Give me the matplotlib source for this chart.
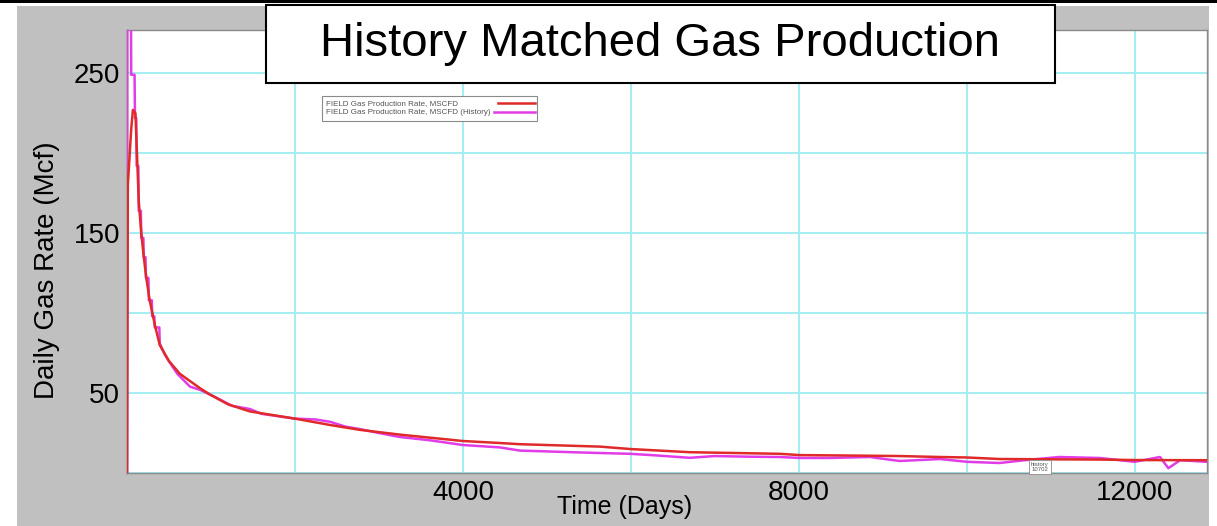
import matplotlib
matplotlib.use("Agg")
import matplotlib.pyplot as plt
from matplotlib.patches import Rectangle
from matplotlib.lines import Line2D

plt.rcParams['font.family'] = ['Liberation Sans', 'DejaVu Sans']

# ---- data ----
hist_days = [0, 3, 45, 50, 90, 95, 110, 115, 135, 140, 165, 170, 195, 200, 220, 225,
             255, 260, 295, 300, 325, 330, 385, 390, 450, 510,
             600, 750, 870, 1050, 1250, 1464, 1600, 2000, 2240, 2420, 2600, 2770,
             3000, 3250, 3600, 4000, 4440, 4680, 5000, 5300, 5630, 5990, 6300,
             6700, 7000, 7400, 7770, 8010, 8370, 8845, 9200, 9680, 10000, 10390,
             10690, 11100, 11580, 12000, 12300, 12400, 12540, 12860]
hist_rate = [0, 320, 320, 249, 249, 222, 222, 192, 192, 164, 164, 147, 147, 135, 135, 122,
             122, 108, 108, 98, 98, 91, 91, 81, 74, 69,
             62, 54, 52, 47.5, 42, 40, 37, 34, 33.5, 32, 29, 27.5,
             25, 22.5, 20.5, 17.5, 16, 14, 13.5, 13, 12.5, 12, 11,
             9.5, 10.6, 10.2, 10, 9.4, 9.4, 10, 7.5, 8.75, 7, 6.25,
             8, 10, 9.4, 7, 10, 3, 8, 7]

sim_days = [0, 10, 50, 70, 100, 115, 140, 170, 200, 230, 270, 330, 390, 500, 630,
            870, 990, 1200, 1464, 2000, 2420, 2770, 3250, 4000, 4440, 4680, 5630,
            5990, 6700, 7770, 8010, 8845, 9200, 9680, 10000, 10390, 11580, 12000, 12860]
sim_rate = [0, 180, 215, 227, 225, 205, 170, 150, 135, 122, 108, 93, 80, 70, 62,
            53, 49, 43, 38.5, 34, 30, 27, 24, 20, 18.75, 18, 16.5,
            15, 13, 12, 11.2, 10.8, 10.6, 10, 9.7, 8.75, 8.4, 8.1, 8]

x_grid = [0, 2000, 4000, 6000, 8000, 10000, 12000]
x_labels = ['', '', '4000', '', '8000', '', '12000']
y_grid = [0, 50, 100, 150, 200, 250]
y_labels = ['', '50', '', '150', '', '250']

title = "History Matched Gas Production"
sim_name = "FIELD Gas Production Rate, MSCFD"
hist_name = "FIELD Gas Production Rate, MSCFD (History)"
sim_color = '#e02a2a'
hist_color = '#e23ce8'

W, H = 1217, 526
fig = plt.figure(figsize=(W / 100, H / 100), dpi=100)
fig.patch.set_facecolor('white')

# gray frame background and top black band
fig.add_artist(Rectangle((17 / W, 0), (1209 - 17) / W, (H - 6) / H,
                         transform=fig.transFigure, facecolor='#c0c0c0',
                         edgecolor='none', zorder=0))
fig.add_artist(Rectangle((0, 1 - 3 / H), 1, 3 / H, transform=fig.transFigure,
                         facecolor='black', edgecolor='none', zorder=0))

ax_l, ax_b, ax_w, ax_h = 127, 53, 1080, 443
ax = fig.add_axes([ax_l / W, ax_b / H, ax_w / W, ax_h / H])
ax.set_facecolor('white')
ax.set_xlim(0, 12860)
ax.set_ylim(0, 277)

ax.set_xticks(x_grid)
ax.set_xticklabels(x_labels)
ax.set_yticks(y_grid)
ax.set_yticklabels(y_labels)
ax.tick_params(length=0, labelsize=20, pad=5)
ax.grid(True, color='#a2eef2', lw=1.4)
ax.set_axisbelow(True)
for s in ax.spines.values():
    s.set_color('#8a8a8a')
    s.set_linewidth(1.0)
ax.spines['left'].set_color('#403030')

ax.plot(hist_days, hist_rate, color=hist_color, lw=1.8, zorder=3)
ax.plot(sim_days, sim_rate, color=sim_color, lw=1.8, zorder=4)

# legend box (pixel positions converted to axes fractions)
def fx(px):
    return (px - ax_l) / ax_w

def fy(py):
    return (H - ax_b - py) / ax_h

ax.add_patch(Rectangle((fx(322), fy(121)), fx(537) - fx(322), fy(96) - fy(121),
                       transform=ax.transAxes, facecolor='white', edgecolor='#8a8a8a',
                       lw=0.8, zorder=6))
for name, color, py, x0 in [(sim_name, sim_color, 103.5, 498), (hist_name, hist_color, 112.5, 494)]:
    ax.text(fx(326), fy(py), name, transform=ax.transAxes, fontsize=5.8,
            color='#555555', ha='left', va='center', zorder=7)
    ax.add_line(Line2D([fx(x0), fx(535)], [fy(py), fy(py)], transform=ax.transAxes,
                       color=color, lw=1.8, zorder=7))

ax.text(10870, 0.5, "history\n10702", fontsize=4.3, color='#555555', ha='center',
        va='bottom', linespacing=1.0,
        bbox=dict(boxstyle='square,pad=0.3', facecolor='white', edgecolor='#8a8a8a', lw=0.6),
        zorder=5)

# axis labels
fig.text(47 / W, 1 - 270 / H, "Daily Gas Rate (Mcf)", rotation=90, fontsize=20,
         ha='center', va='center')
fig.text(625 / W, 1 - 507 / H, "Time (Days)", fontsize=18, ha='center', va='center')

# title box
fig.add_artist(Rectangle((266 / W, (H - 83) / H), 789 / W, 78 / H,
                         transform=fig.transFigure, facecolor='white',
                         edgecolor='black', lw=1.5, zorder=10))
fig.text(660 / W, 1 - 44 / H, title, fontsize=34, ha='center', va='center', zorder=11)

fig.savefig('out.png', dpi=100, facecolor=fig.get_facecolor())
